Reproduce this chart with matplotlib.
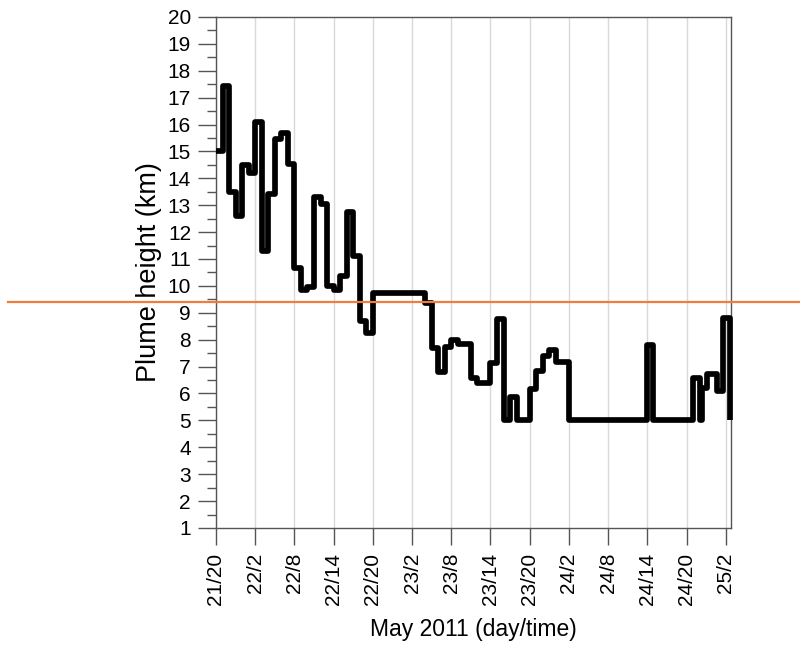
import matplotlib
matplotlib.use("Agg")
import matplotlib.pyplot as plt
import matplotlib.transforms as mtransforms
from matplotlib.lines import Line2D

# hours after 21 May 20:00, and plume height (km) from that time on
hours = [0, 1, 2, 3, 4, 5, 6, 7, 8, 9, 10, 11, 12, 13, 14, 15, 16, 17, 18, 19,
         20, 21, 22, 23, 24, 32, 33, 34, 35, 36, 37, 39, 40, 42, 43, 44, 45, 46,
         48, 49, 50, 51, 52, 54, 65.9, 66.8, 73, 74, 74.4, 75.2, 76.6, 77.6, 78.6]
height = [15.0, 17.45, 13.5, 12.6, 14.5, 14.2, 16.1, 11.3, 13.4, 15.45, 15.7,
          14.55, 10.65, 9.85, 9.95, 13.3, 13.05, 10.0, 9.85, 10.35, 12.75, 11.1,
          8.7, 8.25, 9.72, 9.35, 7.7, 6.8, 7.72, 8.0, 7.85, 6.56, 6.4, 7.12,
          8.77, 5.0, 5.86, 5.0, 6.16, 6.85, 7.4, 7.62, 7.18, 5.0, 7.8, 5.0,
          6.56, 5.0, 6.2, 6.72, 6.1, 8.8, 5.0]

tick_hours = [0, 6, 12, 18, 24, 30, 36, 42, 48, 54, 60, 66, 72, 78]
tick_labels = ["21/20", "22/2", "22/8", "22/14", "22/20", "23/2", "23/8",
               "23/14", "23/20", "24/2", "24/8", "24/14", "24/20", "25/2"]
threshold = 9.4

plt.rcParams['font.family'] = ['Liberation Sans', 'DejaVu Sans']

fig = plt.figure(figsize=(8, 6.51), dpi=100)
ax = fig.add_axes([0.27, 0.189, 0.64375, 0.785])

ax.plot(hours, height, drawstyle='steps-post', color='black', lw=4.1,
        solid_joinstyle='round', solid_capstyle='butt', clip_on=False, zorder=3)

ax.set_xlim(0, 78.8)
ax.set_ylim(1, 20)
ax.set_xticks(tick_hours)
ax.set_xticklabels(tick_labels, rotation=90, fontsize=15)
ax.set_yticks(range(1, 21))
ax.set_yticks([v + 0.5 for v in range(1, 20)], minor=True)
ax.tick_params(axis='y', which='major', length=13, width=1, color='#555555',
               labelsize=15, pad=5)
ax.tick_params(axis='y', which='minor', length=6.5, width=1, color='#555555')
ax.tick_params(axis='x', which='major', length=12, width=1, color='#555555',
               pad=6)
for s in ax.spines.values():
    s.set_color('#555555')
    s.set_linewidth(1)

ax.grid(axis='x', color='#d9d9d9', lw=1)
ax.set_axisbelow(True)

ax.set_ylabel("Plume height (km)", fontsize=19.5, labelpad=4)
ax.set_xlabel("May 2011 (day/time)", fontsize=16.5, labelpad=9)

# orange line runs across the whole figure
trans = mtransforms.blended_transform_factory(fig.transFigure, ax.transData)
fig.add_artist(Line2D([0.01, 1.0], [threshold, threshold], transform=trans,
                      color='#ef7d3c', lw=1.6, zorder=5))

fig.savefig("out.png", dpi=100)
